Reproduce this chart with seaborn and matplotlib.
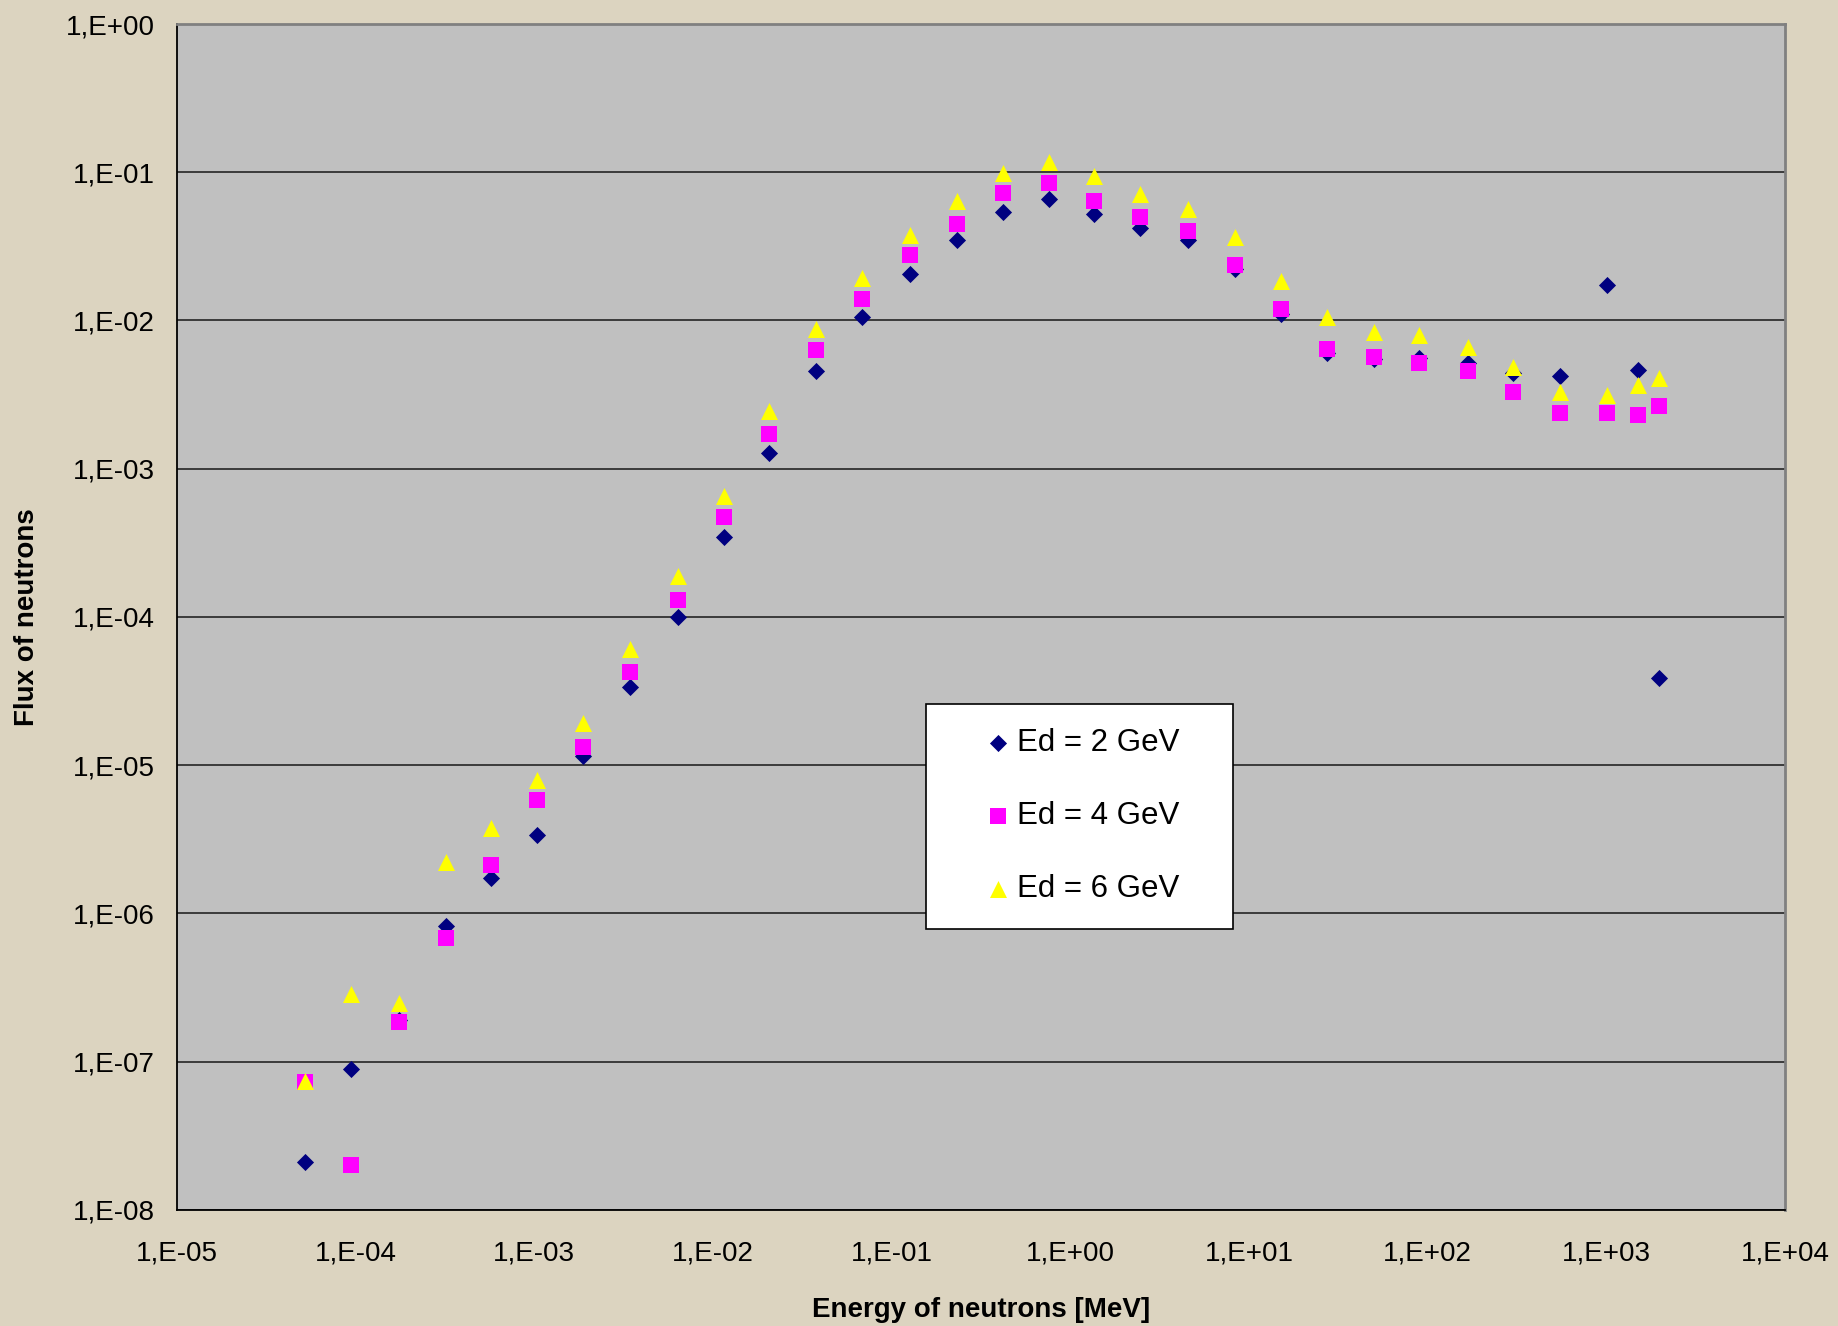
import numpy as np
import pandas as pd
import matplotlib
matplotlib.use("Agg")
import matplotlib.pyplot as plt
from matplotlib.patches import Rectangle
from matplotlib.ticker import FixedLocator, FuncFormatter, NullLocator
import seaborn as sns

# Neutron energy grid [MeV]
energy = [5.2e-5, 9.4e-5, 1.74e-4, 3.19e-4, 5.75e-4, 1.04e-3, 1.87e-3, 3.42e-3,
          6.37e-3, 1.15e-2, 2.07e-2, 3.78e-2, 6.84e-2, 0.127, 0.232, 0.419,
          0.757, 1.36, 2.46, 4.57, 8.37, 15.1, 27.2, 49.8, 89.8, 167, 301,
          551, 1009, 1496, 1963]

# Neutron flux for deuteron energies of 2, 4 and 6 GeV
flux_2gev = [2.1e-8, 8.9e-8, 1.9e-7, 8.2e-7, 1.73e-6, 3.39e-6, 1.15e-5, 3.35e-5,
             1.0e-4, 3.45e-4, 1.28e-3, 4.57e-3, 1.06e-2, 2.07e-2, 3.51e-2, 5.43e-2,
             6.64e-2, 5.24e-2, 4.21e-2, 3.51e-2, 2.23e-2, 1.10e-2, 6.0e-3, 5.5e-3,
             5.6e-3, 5.2e-3, 4.4e-3, 4.25e-3, 1.73e-2, 4.66e-3, 3.88e-5]
flux_4gev = [7.3e-8, 2.0e-8, 1.84e-7, 6.8e-7, 2.11e-6, 5.85e-6, 1.33e-5, 4.25e-5,
             1.31e-4, 4.7e-4, 1.71e-3, 6.34e-3, 1.39e-2, 2.77e-2, 4.45e-2, 7.27e-2,
             8.41e-2, 6.4e-2, 4.96e-2, 3.99e-2, 2.35e-2, 1.2e-2, 6.46e-3, 5.69e-3,
             5.19e-3, 4.57e-3, 3.3e-3, 2.37e-3, 2.37e-3, 2.29e-3, 2.65e-3]
flux_6gev = [7.4e-8, 2.85e-7, 2.5e-7, 2.23e-6, 3.78e-6, 7.96e-6, 1.94e-5, 6.12e-5,
             1.89e-4, 6.52e-4, 2.46e-3, 8.8e-3, 1.93e-2, 3.78e-2, 6.4e-2, 9.9e-2,
             0.117, 9.4e-2, 7.14e-2, 5.64e-2, 3.64e-2, 1.86e-2, 1.06e-2, 8.34e-3,
             8.03e-3, 6.58e-3, 4.83e-3, 3.3e-3, 3.12e-3, 3.67e-3, 4.1e-3]

series_labels = ["Ed = 2 GeV", "Ed = 4 GeV", "Ed = 6 GeV"]
x_ticks = [10.0 ** k for k in range(-5, 5)]
y_ticks = [10.0 ** k for k in range(-8, 1)]

sns.set_theme(style="white")
plt.rcParams["font.family"] = ["Liberation Sans", "DejaVu Sans"]

paper = "#DCD4C0"
fig = plt.figure(figsize=(18.38, 13.26), dpi=100, facecolor=paper)
ax = fig.add_axes([0.0963, 0.0875, 0.9712 - 0.0963, 0.9819 - 0.0875])
ax.set_facecolor("#C0C0C0")

styles = [
    (flux_2gev, "D", "#000080", 76),
    (flux_4gev, "s", "#FF00FF", 117),
    (flux_6gev, "^", "#FFFF00", 150),
]
for (flux, marker, color, size), label in zip(styles, series_labels):
    df = pd.DataFrame({"energy": energy, "flux": flux})
    sns.scatterplot(data=df, x="energy", y="flux", ax=ax, marker=marker,
                    color=color, s=size, linewidth=0, edgecolor=color,
                    label=label, zorder=3)

ax.set_xscale("log")
ax.set_yscale("log")
ax.set_xlim(1e-5, 1e4)
ax.set_ylim(1e-8, 1e0)

exp_fmt = FuncFormatter(lambda v, pos: "1,E{:+03d}".format(int(round(np.log10(v)))))
ax.xaxis.set_major_locator(FixedLocator(x_ticks))
ax.yaxis.set_major_locator(FixedLocator(y_ticks))
ax.xaxis.set_minor_locator(NullLocator())
ax.yaxis.set_minor_locator(NullLocator())
ax.xaxis.set_major_formatter(exp_fmt)
ax.yaxis.set_major_formatter(exp_fmt)

ax.yaxis.grid(True, color="#303030", linewidth=1.3, zorder=1)
ax.xaxis.grid(False)
ax.set_axisbelow(True)

ax.tick_params(axis="both", which="major", direction="out", length=7,
               width=1.2, color="black", labelsize=20, labelcolor="black")
ax.tick_params(axis="x", pad=15)
ax.tick_params(axis="y", pad=9)

for side in ("left", "bottom"):
    ax.spines[side].set_color("black")
    ax.spines[side].set_linewidth(1.3)
for side in ("top", "right"):
    ax.spines[side].set_color("#808080")
    ax.spines[side].set_linewidth(2.0)

ax.set_xlabel("Energy of neutrons [MeV]", fontsize=20, fontweight="bold",
              color="black")
ax.set_ylabel("Flux of neutrons", fontsize=20, fontweight="bold",
              color="black")
ax.xaxis.set_label_coords(0.5, -0.0735)
ax.yaxis.set_label_coords(-0.0855, 0.5)

# Legend box drawn as a plain white rectangle with the entries on top
ax.add_patch(Rectangle((0.4658, 0.2369), 0.6567 - 0.4658, 0.4266 - 0.2369,
                       transform=ax.transAxes, facecolor="white",
                       edgecolor="black", linewidth=1.2, zorder=4))
leg = ax.legend(loc="upper left", bbox_to_anchor=(0.503, 0.4064),
                frameon=False, fontsize=22.5, borderpad=0, borderaxespad=0,
                handlelength=0.8, handletextpad=0.2, labelspacing=1.38,
                markerscale=1.0)
for txt in leg.get_texts():
    txt.set_color("black")
leg.set_zorder(5)

fig.savefig("out.png", dpi=100, facecolor=paper)
